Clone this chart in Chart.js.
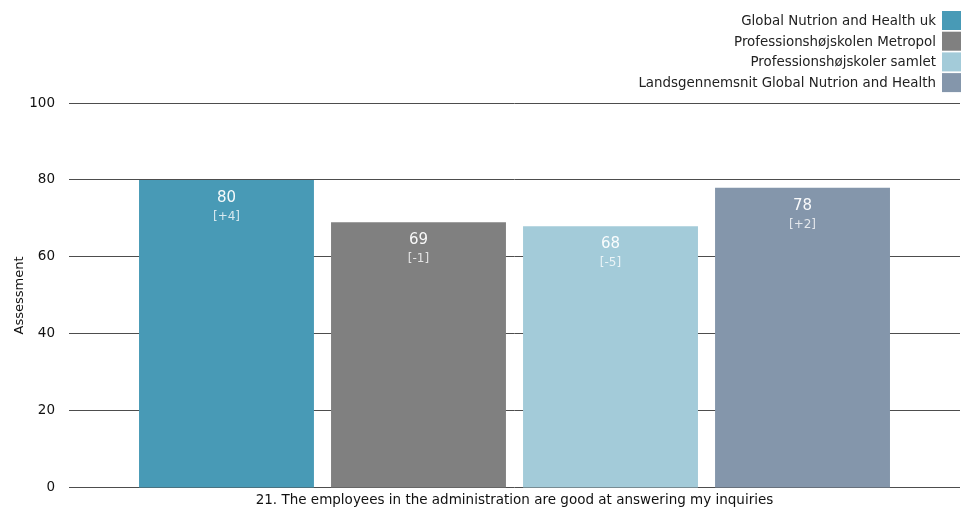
<!DOCTYPE html>
<html>
  <head>
    <meta http-equiv="content-type" content="text/html; charset=utf-8" />
    <title></title>
    <style>
      body { margin: 0; background: #fff; }
      #wrap { width: 973px; height: 510px; }
    </style>
  </head>

  <body>
    <div id="wrap"><canvas id="chart"></canvas></div>
    <script src="https://cdn.jsdelivr.net/npm/chart.js@4/dist/chart.umd.min.js"></script>
    <script>
      const question = "21. The employees in the administration are good at answering my inquiries";
      const groups = [
        "Global Nutrion and Health uk",
        "Professionshøjskolen Metropol",
        "Professionshøjskoler samlet",
        "Landsgennemsnit Global Nutrion and Health",
      ];
      const scores = [80, 69, 68, 78];
      const changes = ["[+4]", "[-1]", "[-5]", "[+2]"];
      const colors = ["#489ab6", "#808080", "#a3cbd9", "#8496ab"];

      const FONT = "'DejaVu Sans', Tahoma, sans-serif";

      // value + change printed inside the top of each bar
      const barLabels = {
        id: "barLabels",
        afterDatasetsDraw(chart) {
          const ctx = chart.ctx;
          ctx.save();
          ctx.textAlign = "center";
          ctx.textBaseline = "middle";
          chart.data.datasets.forEach((ds, i) => {
            const bar = chart.getDatasetMeta(i).data[0];
            ctx.fillStyle = "rgba(255,255,255,0.95)";
            ctx.font = "15px " + FONT;
            ctx.fillText(ds.data[0], bar.x, bar.y + 18);
            ctx.fillStyle = "rgba(255,255,255,0.78)";
            ctx.font = "12px " + FONT;
            ctx.fillText(changes[i], bar.x, bar.y + 37);
          });
          ctx.restore();
        },
      };

      // one legend row per group, right aligned, swatch on the right
      const stackedLegend = {
        id: "stackedLegend",
        afterDraw(chart) {
          const ctx = chart.ctx;
          const right = chart.chartArea.right + 1;
          ctx.save();
          ctx.font = "13.4px " + FONT;
          ctx.textAlign = "right";
          ctx.textBaseline = "middle";
          chart.data.datasets.forEach((ds, i) => {
            const y = 20.5 + i * 20.7;
            ctx.fillStyle = ds.backgroundColor;
            ctx.fillRect(right - 19, y - 9.5, 19, 19);
            ctx.fillStyle = "#222";
            ctx.fillText(ds.label, right - 25, y + 1);
          });
          ctx.restore();
        },
      };

      new Chart("chart", {
        type: "bar",
        data: {
          labels: [question],
          datasets: groups.map((g, i) => ({
            label: g,
            data: [scores[i]],
            backgroundColor: colors[i],
            categoryPercentage: 0.862,
            barPercentage: 0.911,
          })),
        },
        options: {
          responsive: true,
          maintainAspectRatio: false,
          animation: false,
          layout: { padding: { top: 103, right: 13, left: 10, bottom: 0 } },
          plugins: {
            legend: { display: false },
            tooltip: { enabled: false },
          },
          scales: {
            x: {
              grid: { display: false },
              border: { display: false },
              ticks: { color: "#111", font: { family: FONT, size: 13.5 }, padding: -4 },
              afterFit(scale) { scale.height = 22; },
            },
            y: {
              min: 0,
              max: 100,
              ticks: { stepSize: 20, color: "#111", font: { family: FONT, size: 13.5 }, padding: 14 },
              grid: { color: "#4d4d4d", drawTicks: false },
              border: { display: false },
              title: {
                display: true,
                text: "Assessment",
                color: "#111",
                font: { family: FONT, size: 13 },
                padding: 2,
              },
              afterFit(scale) { scale.width = 59; },
            },
          },
        },
        plugins: [barLabels, stackedLegend],
      });
    </script>
  </body>
</html>
